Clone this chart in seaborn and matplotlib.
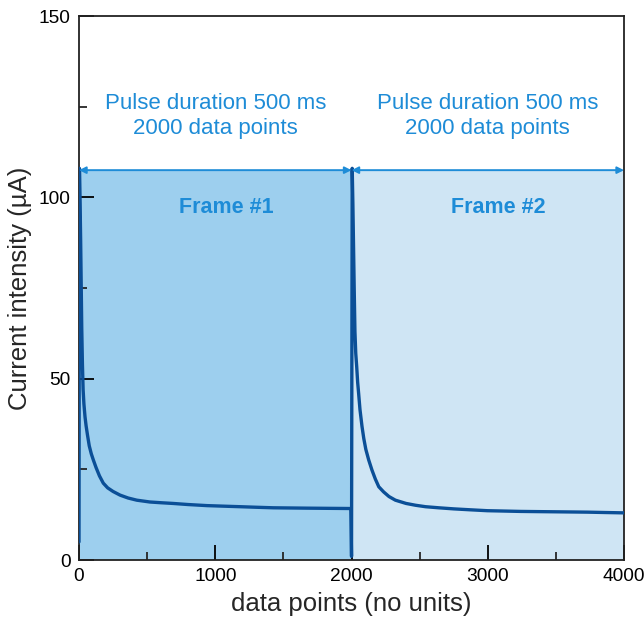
import matplotlib
matplotlib.use("Agg")
import matplotlib.pyplot as plt
import seaborn as sns
import pandas as pd

# Current trace, frame 1 (data point index, current in µA)
frame1_x = [0, 3, 8, 12, 16, 20, 25, 30, 36, 44, 52, 62, 75, 90, 105, 125, 150, 178,
            210, 250, 301, 360, 424, 520, 600, 690, 800, 940, 1060, 1183, 1300, 1426,
            1550, 1675, 1830, 1995]
frame1_y = [5, 108, 98, 88, 76, 64, 54, 47, 43, 39.5, 37, 34.5, 31.5, 29.3, 27.6, 25.5,
            23.2, 21.2, 19.9, 18.9, 17.9, 17.1, 16.5, 16.0, 15.8, 15.6, 15.3, 15.0, 14.85,
            14.7, 14.55, 14.4, 14.35, 14.3, 14.25, 14.2]

# Current trace, frame 2
frame2_x = [2000, 2005, 2010, 2015, 2020, 2025, 2031, 2038, 2045, 2052, 2062, 2077,
            2090, 2105, 2126, 2150, 2175, 2200, 2235, 2275, 2322, 2400, 2470, 2543,
            2640, 2751, 2870, 2996, 3120, 3241, 3360, 3486, 3610, 3731, 3860, 4000]
frame2_y = [1, 108, 98, 86, 74, 63, 57, 53.3, 49, 46, 41.5, 36.8, 33.5, 30.5, 27.6,
            24.8, 22.3, 20.2, 18.8, 17.5, 16.5, 15.6, 15.1, 14.7, 14.4, 14.1, 13.85,
            13.6, 13.5, 13.4, 13.35, 13.3, 13.25, 13.2, 13.1, 13.0]

frame_edges = [0, 2000, 4000]
frame_top = 107.5
frame_labels = ["Frame #1", "Frame #2"]
pulse_label = "Pulse duration 500 ms\n2000 data points"
frame_colors = ["#9dcfee", "#cfe5f4"]

trace = pd.DataFrame({
    "x": frame1_x + frame2_x,
    "y": frame1_y + frame2_y,
})

sns.set_style("ticks")
plt.rcParams["font.family"] = ["Liberation Sans", "DejaVu Sans"]

fig = plt.figure(figsize=(6.44, 6.21), dpi=100)
ax = fig.add_axes([0.1227, 0.0982, 0.8463, 0.876])

accent = "#1e8cd7"

# shaded frames
for i in range(2):
    ax.fill_between([frame_edges[i], frame_edges[i + 1]], 0, frame_top,
                    color=frame_colors[i], lw=0, zorder=0)

sns.lineplot(data=trace, x="x", y="y", sort=False, estimator=None,
             color="#0b4f97", lw=2.4, ax=ax, zorder=3)

# double-headed span arrows along the frame tops
for i in range(2):
    ax.annotate("", xy=(frame_edges[i], frame_top),
                xytext=(frame_edges[i + 1], frame_top),
                arrowprops=dict(arrowstyle="<|-|>", color=accent, lw=1.4,
                                mutation_scale=10, shrinkA=0, shrinkB=0),
                annotation_clip=False, zorder=4)
    mid = (frame_edges[i] + frame_edges[i + 1]) / 2
    ax.text(mid, 122.3, pulse_label, ha="center", va="center",
            color=accent, fontsize=16, linespacing=1.25)
    ax.text(mid + 80, 97.3, frame_labels[i], ha="center", va="center",
            color=accent, fontsize=15.5, fontweight="bold")

ax.set_xlim(0, 4000)
ax.set_ylim(0, 150)
ax.set_xticks([0, 1000, 2000, 3000, 4000])
ax.set_xticks([500, 1500, 2500, 3500], minor=True)
ax.set_yticks([0, 50, 100, 150])
ax.set_yticks([25, 75, 125], minor=True)
ax.tick_params(which="major", direction="in", length=11, width=1.3,
               labelsize=13.8, pad=6, colors="black")
ax.tick_params(which="minor", direction="in", length=6, width=1.3)
ax.tick_params(axis="x", which="both", top=False)
ax.tick_params(axis="y", which="both", right=False)

for s in ax.spines.values():
    s.set_visible(True)
    s.set_linewidth(1.3)
    s.set_color("#222222")

ax.set_xlabel("data points (no units)", fontsize=18.5, labelpad=5)
ax.set_ylabel("Current intensity (µA)", fontsize=18.5, labelpad=5)

fig.savefig("out.png", dpi=100)
